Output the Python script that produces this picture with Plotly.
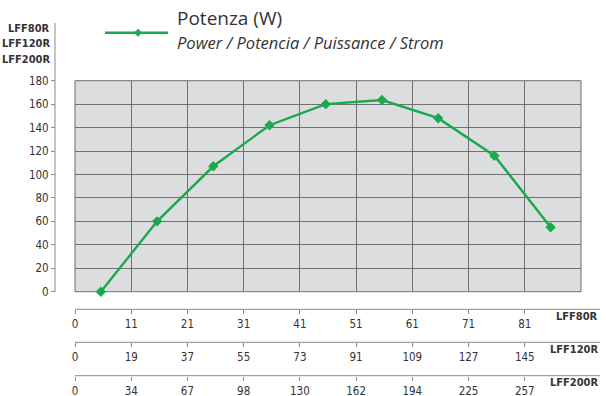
import plotly.graph_objects as go

# Power curve (W) sampled at the middle of each flow band
power = [0, 60, 107, 142, 160, 163.5, 148, 116, 55]

# Flow scales for the three models (one label per band boundary)
models = ["LFF80R", "LFF120R", "LFF200R"]
ticks_80 = ["0", "11", "21", "31", "41", "51", "61", "71", "81"]
ticks_120 = ["0", "19", "37", "55", "73", "91", "109", "127", "145"]
ticks_200 = ["0", "34", "67", "98", "130", "162", "194", "225", "257"]

y_ticks = list(range(0, 181, 20))

W, H = 606, 396
def px(x):
    return x / W
def py(y):
    return 1 - y / H

NARROW = "DejaVu Sans Condensed, Liberation Sans Narrow, Arial Narrow, sans-serif"
SANS = "Open Sans, Noto Sans, sans-serif"
GREEN = "#1aa94c"
GRID = "#707070"
AXIS = "#8a8a8a"
TXT = "#333333"

plot_l, plot_r, plot_t, plot_b = 75, 581, 80.7, 291.7
n_bands = len(power)

fig = go.Figure()
fig.add_trace(go.Scatter(
    x=[i + 0.46 for i in range(n_bands)], y=power,
    mode="lines+markers",
    line=dict(color=GREEN, width=2.4),
    marker=dict(symbol="diamond", size=8, color=GREEN),
    showlegend=False, hoverinfo="skip", cliponaxis=False,
))

# Secondary flow scales, one overlaid axis per model
scale_rows = [(ticks_80, 309.3), (ticks_120, 342.3), (ticks_200, 375.7)]
for k, (labels, ypos) in enumerate(scale_rows, start=2):
    fig.add_trace(go.Scatter(x=[], y=[], xaxis=f"x{k}", yaxis="y",
                             showlegend=False, hoverinfo="skip"))
    fig.update_layout(**{f"xaxis{k}": dict(
        overlaying="x", anchor="free", position=py(ypos), side="bottom",
        range=[0, n_bands], tickvals=list(range(len(labels))), ticktext=labels,
        ticks="outside", ticklen=4, tickcolor=AXIS, tickwidth=1,
        showgrid=False, zeroline=False, showline=False, automargin=False,
        tickfont=dict(family=NARROW, size=11.5, color=TXT),
    )})
    fig.add_shape(type="line", xref="paper", yref="paper",
                  x0=px(plot_l), x1=px(600), y0=py(ypos), y1=py(ypos),
                  line=dict(color=AXIS, width=1))

fig.update_layout(
    width=W, height=H,
    margin=dict(l=0, r=0, t=0, b=0, autoexpand=False),
    paper_bgcolor="white",
    plot_bgcolor="#dcdddf",
    xaxis=dict(domain=[px(plot_l), px(plot_r)], range=[0, n_bands],
               tickvals=list(range(n_bands + 1)), showticklabels=False,
               ticks="", showgrid=True, gridcolor=GRID, gridwidth=1,
               zeroline=False, showline=False, automargin=False),
    yaxis=dict(domain=[py(plot_b), py(plot_t)], range=[0, 180],
               anchor="free", position=px(55), side="left",
               tickvals=y_ticks, ticks="outside", ticklen=4, tickcolor=AXIS,
               showgrid=True, gridcolor=GRID, gridwidth=1,
               zeroline=False, showline=False, automargin=False,
               tickfont=dict(family=NARROW, size=11.5, color=TXT)),
)

# Plot frame and vertical value axis line
fig.add_shape(type="rect", xref="paper", yref="paper", layer="below",
              x0=px(plot_l), x1=px(plot_r), y0=py(plot_b), y1=py(plot_t),
              line=dict(color=GRID, width=1))
fig.add_shape(type="line", xref="paper", yref="paper",
              x0=px(55), x1=px(55), y0=py(23), y1=py(plot_b),
              line=dict(color=AXIS, width=1))

# Model names at top-left and at the end of each flow scale
for name, ytop in zip(models, [28, 43.5, 59]):
    fig.add_annotation(text=f"<b>{name}</b>", xref="paper", yref="paper",
                       x=px(52), y=py(ytop), xanchor="right", yanchor="middle",
                       showarrow=False,
                       font=dict(family=NARROW, size=11, color=TXT))
for name, (_, ypos) in zip(models, scale_rows):
    fig.add_annotation(text=f"<b>{name}</b>", xref="paper", yref="paper",
                       x=px(600), y=py(ypos + 7), xanchor="right", yanchor="middle",
                       showarrow=False,
                       font=dict(family=NARROW, size=11, color=TXT))

# Legend: line sample with diamond, title and multilingual subtitle
fig.add_shape(type="line", xref="paper", yref="paper",
              x0=px(105), x1=px(168), y0=py(32.7), y1=py(32.7),
              line=dict(color=GREEN, width=2.4))
d = 4
fig.add_shape(type="path", xref="paper", yref="paper",
              path=(f"M {px(138)},{py(32.7 - d)} L {px(138 + d)},{py(32.7)} "
                    f"L {px(138)},{py(32.7 + d)} L {px(138 - d)},{py(32.7)} Z"),
              fillcolor=GREEN, line=dict(color=GREEN, width=0))
fig.add_annotation(text="Potenza (W)", xref="paper", yref="paper",
                   x=px(175), y=py(18), xanchor="left", yanchor="middle",
                   showarrow=False, font=dict(family=SANS, size=19, color=TXT))
fig.add_annotation(text="<i>Power / Potencia / Puissance / Strom</i>",
                   xref="paper", yref="paper",
                   x=px(175), y=py(42), xanchor="left", yanchor="middle",
                   showarrow=False, font=dict(family=SANS, size=16.5, color=TXT))

fig.write_html("out.html")
